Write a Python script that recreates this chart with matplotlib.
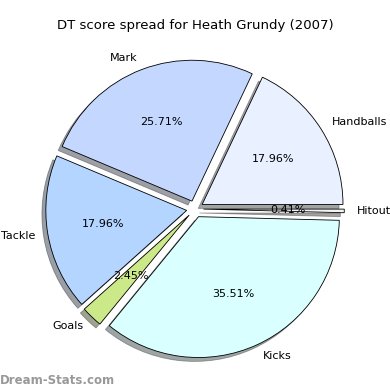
import matplotlib
matplotlib.use("Agg")
import matplotlib.pyplot as plt

categories = ["Handballs", "Mark", "Tackle", "Goals", "Kicks", "Hitout"]
values = [17.96, 25.71, 17.96, 2.45, 35.51, 0.41]
colors = ["#e9f0ff", "#c4d8ff", "#b3d5ff", "#cce98a", "#d9ffff", "#f4f4f4"]
title = "DT score spread for Heath Grundy (2007)"

fig = plt.figure(figsize=(3.9, 3.9), dpi=100)
ax = fig.add_axes([26 / 390, 12 / 390, 338 / 390, 338 / 390])
wedges, texts, autotexts = ax.pie(
    values, labels=categories, colors=colors, explode=[0.06] * len(values),
    autopct="%1.2f%%", shadow=True, startangle=0, labeldistance=1.09,
    wedgeprops=dict(edgecolor="black", linewidth=0.6),
    textprops=dict(fontsize=8),
)
ax.set_xlim(-1.2, 1.2)
ax.set_ylim(-1.2, 1.2)
ax.set_aspect("equal")
ax.axis("off")
fig.text(0.5, 1 - 25 / 390, title, ha="center", va="center", fontsize=9.5)
fig.text(0.0, 10 / 390, "Dream-Stats.com", ha="left", va="center",
         fontsize=8.5, color="#999999", fontweight="bold")
fig.savefig("out.png", dpi=100)
